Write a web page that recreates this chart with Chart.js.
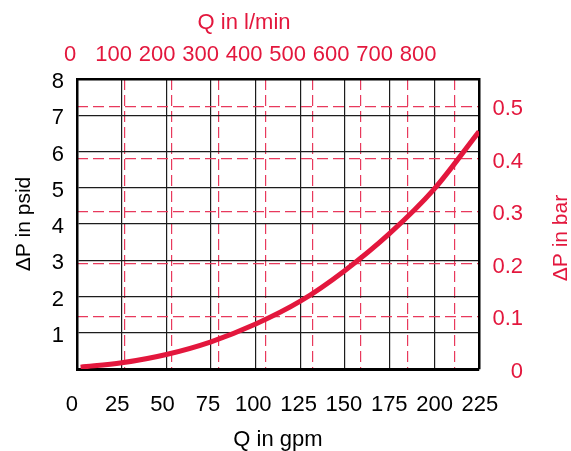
<!DOCTYPE html>
<html lang="en">
<head>
  <meta charset="UTF-8" />
  <title>Pressure drop vs flow</title>
  <script src="https://cdn.jsdelivr.net/npm/chart.js"></script>
  <style>
    html, body { margin: 0; padding: 0; background: #fff; }
    #wrap { width: 571px; height: 451px; }
  </style>
</head>
<body>
<div id="wrap"><canvas id="dpChart"></canvas></div>

<script>
// flow (gpm) and pressure drop (psid)
const flowGpm  = [2, 25, 50, 75, 100, 125, 150, 175, 200, 225];
const dropPsid = [0.05, 0.17, 0.40, 0.75, 1.24, 1.87, 2.72, 3.74, 4.97, 6.55];

// tick labels
const gpmTicks = [0, 25, 50, 75, 100, 125, 150, 175, 200, 225];
const psiTicks = [0, 1, 2, 3, 4, 5, 6, 7, 8];
const lpmTicks = [0, 100, 200, 300, 400, 500, 600, 700, 800];
const barTicks = [0, 0.1, 0.2, 0.3, 0.4, 0.5];

const LPM_PER_GPM = 3.78541;
const PSI_PER_BAR = 14.5038;

const RED = '#e3173d';
const RED_GRID = '#e8395c';
const BLACK = '#1c1c1c';
const FONT = 'Liberation Sans, Arial, sans-serif';
const DASH = [11, 5];

const setTicks = list => s => { s.ticks = list.map(v => ({ value: v })); };

// titles that chart.js can't place like the original (top one is centred on its labels,
// right one reads bottom-to-top)
const extraTitles = {
  id: 'extraTitles',
  afterDraw(chart) {
    const { ctx } = chart;
    const top = chart.scales.xl;
    ctx.save();
    ctx.fillStyle = RED;
    ctx.font = '22px ' + FONT;
    ctx.textAlign = 'center';
    ctx.textBaseline = 'middle';
    const cx = (top.getPixelForValue(lpmTicks[0]) + top.getPixelForValue(lpmTicks[lpmTicks.length - 1])) / 2;
    ctx.fillText('Q in l/min', cx, 23);
    ctx.translate(561, 238);
    ctx.rotate(-Math.PI / 2);
    ctx.font = '21px ' + FONT;
    ctx.fillText('ΔP in bar', 0, 0);
    ctx.restore();
  }
};

new Chart(document.getElementById('dpChart'), {
  type: 'line',
  data: {
    datasets: [{
      data: flowGpm.map((q, i) => ({ x: q, y: dropPsid[i] })),
      borderColor: RED,
      borderWidth: 5,
      pointRadius: 0,
      cubicInterpolationMode: 'monotone',
      xAxisID: 'x',
      yAxisID: 'y'
    }]
  },
  options: {
    responsive: true,
    maintainAspectRatio: false,
    animation: false,
    layout: { padding: { right: 48 } },
    plugins: { legend: { display: false }, tooltip: { enabled: false } },
    scales: {
      // gpm grid
      x: {
        type: 'linear', position: 'bottom', min: 0, max: 225,
        afterBuildTicks: setTicks(gpmTicks),
        afterFit: s => { s.height = 0; },
        grid: { color: BLACK, lineWidth: 1.2, drawTicks: false },
        border: { color: '#000', width: 3 },
        ticks: { display: false }
      },
      // gpm labels, slightly wider spaced on the original
      xb: {
        type: 'linear', position: 'bottom', min: 2.8, max: 224.5,
        afterBuildTicks: setTicks(gpmTicks),
        afterFit: s => { s.height = 82; },
        grid: { display: false, drawTicks: false },
        border: { display: false },
        ticks: { color: '#000', padding: 25, font: { family: FONT, size: 22, lineHeight: 1 } },
        title: { display: true, text: 'Q in gpm', color: '#000', padding: 0,
                 font: { family: FONT, size: 22, lineHeight: 1 } }
      },
      // red dashed l/min grid, true position
      xg: {
        type: 'linear', position: 'top', min: 0, max: 225 * LPM_PER_GPM,
        afterBuildTicks: setTicks(lpmTicks.slice(1)),
        afterFit: s => { s.height = 0; },
        grid: { color: RED_GRID, lineWidth: 1.2, drawTicks: false },
        border: { display: false, dash: DASH },
        ticks: { display: false }
      },
      // top l/min labels, spaced as printed on the original
      xl: {
        type: 'linear', position: 'top', min: 16, max: 940,
        afterBuildTicks: setTicks(lpmTicks),
        afterFit: s => { s.height = 79; },
        grid: { display: false, drawTicks: false },
        border: { color: '#000', width: 2.5 },
        ticks: { color: RED, padding: 13, font: { family: FONT, size: 22, lineHeight: 1 } }
      },
      y: {
        type: 'linear', position: 'left', min: 0, max: 8,
        afterBuildTicks: setTicks(psiTicks),
        afterFit: s => { s.width = 77; },
        grid: { color: BLACK, lineWidth: 1.2, drawTicks: false },
        border: { color: '#000', width: 2.5 },
        ticks: { color: '#000', padding: 13, labelOffset: 3,
                 font: { family: FONT, size: 22, lineHeight: 1 },
                 callback: v => (v === 0 ? '' : v) },
        title: { display: true, text: 'ΔP in psid', color: '#000', padding: { top: 14 },
                 font: { family: FONT, size: 21, lineHeight: 1 } }
      },
      y2: {
        type: 'linear', position: 'right', min: 0, max: 8 / PSI_PER_BAR,
        afterBuildTicks: setTicks(barTicks),
        afterFit: s => { s.width = 44; },
        grid: { color: c => (c.tick && c.tick.value === 0 ? 'rgba(0,0,0,0)' : RED_GRID),
                lineWidth: 1.2, drawTicks: false },
        border: { color: '#000', width: 2.5, dash: DASH },
        ticks: { color: RED, padding: 13, crossAlign: 'far', labelOffset: 3,
                 font: { family: FONT, size: 22, lineHeight: 1 },
                 callback: v => String(v) }
      }
    }
  },
  plugins: [extraTitles]
});
</script>
</body>
</html>
